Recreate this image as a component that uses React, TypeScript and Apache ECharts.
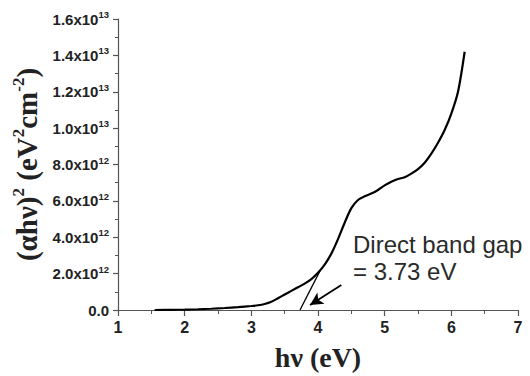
import React, { useEffect, useRef } from "react";
import * as echarts from "echarts";

// photon energy (eV)
const curveX = [1.55, 1.8, 2.0, 2.2, 2.4, 2.6, 2.8, 3.0, 3.1, 3.2, 3.3, 3.4, 3.5, 3.6, 3.7, 3.8, 3.9, 4.0, 4.1, 4.2, 4.3, 4.4, 4.5, 4.6, 4.7, 4.8, 4.9, 5.0, 5.1, 5.2, 5.3, 5.4, 5.5, 5.6, 5.7, 5.8, 5.9, 6.0, 6.1, 6.2];
// (alpha h nu)^2 in units of 1e12 eV^2 cm^-2
const curveY = [0.0, 0.01, 0.02, 0.04, 0.07, 0.11, 0.16, 0.22, 0.26, 0.33, 0.45, 0.65, 0.85, 1.05, 1.25, 1.45, 1.7, 2.05, 2.5, 3.1, 3.9, 4.8, 5.6, 6.05, 6.25, 6.4, 6.6, 6.85, 7.05, 7.2, 7.3, 7.5, 7.75, 8.1, 8.6, 9.2, 9.9, 10.8, 12.0, 14.2];

const tangentX = [3.73, 4.03];
const tangentY = [0, 2.15];

const arrowFrom = [4.35, 1.37];
const arrowTo = [3.88, 0.27];

const yTickValues = [0, 2, 4, 6, 8, 10, 12, 14, 16];
const yTickMantissa = ["0.0", "2.0", "4.0", "6.0", "8.0", "1.0", "1.2", "1.4", "1.6"];
const yTickExponent = ["", "12", "12", "12", "12", "13", "13", "13", "13"];

const annotationLines = ["Direct band gap", "= 3.73 eV"];

export default function App() {
  const ref = useRef<HTMLDivElement>(null);

  useEffect(() => {
    document.body.style.margin = "0";
    if (!ref.current) return;
    const chart = echarts.init(ref.current, null, { renderer: "svg" });
    const axisColor = "#555";
    const labelColor = "#222";
    chart.setOption({
      animation: false,
      backgroundColor: "#fff",
      grid: { left: 118, right: 12, top: 19, bottom: 65 },
      xAxis: {
        type: "value",
        min: 1,
        max: 7,
        interval: 1,
        name: "h\u03bd (eV)",
        nameLocation: "middle",
        nameGap: 33,
        nameTextStyle: {
          fontFamily: "Liberation Serif",
          fontWeight: "bold",
          fontSize: 28,
          color: labelColor,
        },
        axisLine: { show: true, lineStyle: { color: axisColor, width: 1.2 } },
        axisTick: { show: true, inside: false, length: 6, lineStyle: { color: axisColor, width: 1.2 } },
        minorTick: { show: true, splitNumber: 2, length: 4, lineStyle: { color: axisColor, width: 1 } },
        splitLine: { show: false },
        axisLabel: {
          margin: 9,
          fontFamily: "Liberation Sans",
          fontWeight: "bold",
          fontSize: 16,
          color: labelColor,
        },
      },
      yAxis: {
        type: "value",
        min: 0,
        max: 16,
        interval: 2,
        name: "{a|(\u03b1h\u03bd)}{s|2}{a| (eV}{s|2}{a|cm}{s|-2}{a|)}",
        nameLocation: "middle",
        nameGap: 70,
        nameRotate: 90,
        nameTextStyle: {
          rich: {
            a: {
              fontFamily: "Liberation Serif",
              fontWeight: "bold",
              fontSize: 29,
              lineHeight: 34,
              color: labelColor,
            },
            s: {
              fontFamily: "Liberation Serif",
              fontWeight: "bold",
              fontSize: 17,
              lineHeight: 17,
              verticalAlign: "top",
              color: labelColor,
            },
          },
        },
        axisLine: { show: true, lineStyle: { color: axisColor, width: 1.2 } },
        axisTick: { show: true, inside: false, length: 5, lineStyle: { color: axisColor, width: 1.2 } },
        minorTick: { show: true, splitNumber: 2, length: 3, lineStyle: { color: axisColor, width: 1 } },
        splitLine: { show: false },
        axisLabel: {
          margin: 9,
          formatter: (v: number) => {
            const i = yTickValues.indexOf(Math.round(v));
            if (i < 0) return "";
            const m = yTickMantissa[i];
            const e = yTickExponent[i];
            return e ? `{m|${m}x10}{s|${e}}` : `{m|${m}}`;
          },
          rich: {
            m: {
              fontFamily: "Liberation Sans",
              fontWeight: "bold",
              fontSize: 15,
              lineHeight: 19,
              color: labelColor,
            },
            s: {
              fontFamily: "Liberation Sans",
              fontWeight: "bold",
              fontSize: 9.5,
              lineHeight: 10,
              verticalAlign: "top",
              color: labelColor,
            },
          },
        },
      },
      series: [
        {
          type: "line",
          data: curveX.map((x, i) => [x, curveY[i]]),
          smooth: 0.3,
          showSymbol: false,
          symbol: "none",
          lineStyle: { color: "#000", width: 2.2 },
          z: 3,
        },
        {
          type: "line",
          data: tangentX.map((x, i) => [x, tangentY[i]]),
          showSymbol: false,
          symbol: "none",
          lineStyle: { color: "#000", width: 1.3 },
          markLine: {
            silent: true,
            symbol: ["none", "arrow"],
            symbolSize: [10, 13],
            label: { show: false },
            lineStyle: { color: "#000", width: 1.8, type: "solid" },
            data: [[{ coord: arrowFrom }, { coord: arrowTo }]],
          },
        },
      ],
      graphic: [
        {
          type: "text",
          left: 353,
          top: 231,
          style: {
            text: annotationLines.join("\n"),
            fontFamily: "Liberation Sans",
            fontSize: 24,
            lineHeight: 27,
            fill: "#2a2a2a",
          },
        },
      ],
    });
    return () => chart.dispose();
  }, []);

  return <div ref={ref} style={{ width: 530, height: 376 }} />;
}
